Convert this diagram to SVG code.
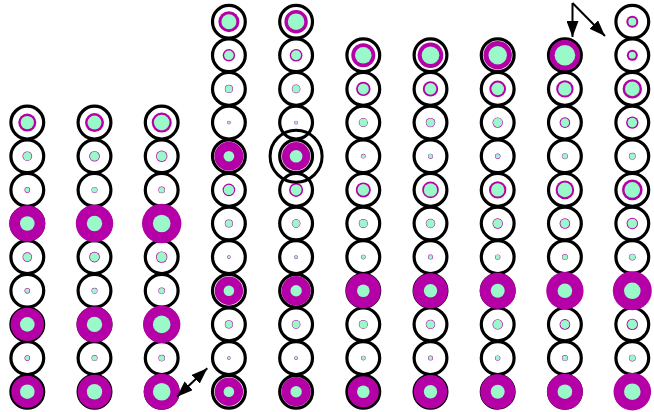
<svg xmlns="http://www.w3.org/2000/svg" width="654" height="412" viewBox="0 0 654 412">
<style>
.ring{fill:#fff;stroke:#000;stroke-width:3.2}
.m{fill:#b400a6}
.a{fill:#99f9c9}
.hl{fill:none;stroke:#000;stroke-width:3}
.conn{stroke:#000;stroke-width:2;fill:none}
</style>
<defs>
<marker id="ah" viewBox="0 0 16 12" refX="16" refY="6" markerWidth="16" markerHeight="12" markerUnits="userSpaceOnUse" orient="auto-start-reverse"><path d="M0,0 L16,6 L0,12 z" fill="#000"/></marker>
</defs>
<g id="nodes">
<!-- column 1 -->
<g id="c1r1" transform="translate(27.3,358.1)"><circle class="ring" r="16.4"/><circle class="m" r="2.8"/><circle class="a" r="2.3"/></g>
<g id="c1r3" transform="translate(27.3,290.8)"><circle class="ring" r="16.4"/><circle class="m" r="2.8"/><circle class="a" r="2.3"/></g>
<g id="c1r4" transform="translate(27.3,257.1)"><circle class="ring" r="16.4"/><circle class="m" r="4.8"/><circle class="a" r="4.2"/></g>
<g id="c1r6" transform="translate(27.3,189.9)"><circle class="ring" r="16.4"/><circle class="m" r="2.8"/><circle class="a" r="2.3"/></g>
<g id="c1r7" transform="translate(27.3,156.2)"><circle class="ring" r="16.4"/><circle class="m" r="4.8"/><circle class="a" r="4.2"/></g>
<g id="c1r8" transform="translate(27.3,122.6)"><circle class="ring" r="16.4"/><circle class="m" r="9"/><circle class="a" r="6.7"/></g>
<!-- column 2 -->
<g id="c2r1" transform="translate(94.5,358.1)"><circle class="ring" r="16.4"/><circle class="m" r="3"/><circle class="a" r="2.6"/></g>
<g id="c2r3" transform="translate(94.5,290.8)"><circle class="ring" r="16.4"/><circle class="m" r="3"/><circle class="a" r="2.6"/></g>
<g id="c2r4" transform="translate(94.5,257.1)"><circle class="ring" r="16.4"/><circle class="m" r="5.3"/><circle class="a" r="4.6"/></g>
<g id="c2r6" transform="translate(94.5,189.9)"><circle class="ring" r="16.4"/><circle class="m" r="3"/><circle class="a" r="2.6"/></g>
<g id="c2r7" transform="translate(94.5,156.2)"><circle class="ring" r="16.4"/><circle class="m" r="5.3"/><circle class="a" r="4.6"/></g>
<g id="c2r8" transform="translate(94.5,122.6)"><circle class="ring" r="16.4"/><circle class="m" r="9.5"/><circle class="a" r="7"/></g>
<!-- column 3 -->
<g id="c3r1" transform="translate(161.7,358.1)"><circle class="ring" r="16.4"/><circle class="m" r="3.3"/><circle class="a" r="2.9"/></g>
<g id="c3r3" transform="translate(161.7,290.8)"><circle class="ring" r="16.4"/><circle class="m" r="3.3"/><circle class="a" r="2.9"/></g>
<g id="c3r4" transform="translate(161.7,257.1)"><circle class="ring" r="16.4"/><circle class="m" r="5.7"/><circle class="a" r="5"/></g>
<g id="c3r6" transform="translate(161.7,189.9)"><circle class="ring" r="16.4"/><circle class="m" r="3.3"/><circle class="a" r="2.9"/></g>
<g id="c3r7" transform="translate(161.7,156.2)"><circle class="ring" r="16.4"/><circle class="m" r="5.7"/><circle class="a" r="5"/></g>
<g id="c3r8" transform="translate(161.7,122.6)"><circle class="ring" r="16.4"/><circle class="m" r="10"/><circle class="a" r="7.8"/></g>
<!-- column 4 -->
<g id="c4r1" transform="translate(228.9,358.1)"><circle class="ring" r="16.4"/><circle class="m" r="1.8"/><circle class="a" r="1.4"/></g>
<g id="c4r2" transform="translate(228.9,324.4)"><circle class="ring" r="16.4"/><circle class="m" r="4.1"/><circle class="a" r="3.6"/></g>
<g id="c4r4" transform="translate(228.9,257.1)"><circle class="ring" r="16.4"/><circle class="m" r="1.8"/><circle class="a" r="1.4"/></g>
<g id="c4r5" transform="translate(228.9,223.5)"><circle class="ring" r="16.4"/><circle class="m" r="4.1"/><circle class="a" r="3.6"/></g>
<g id="c4r6" transform="translate(228.9,189.9)"><circle class="ring" r="16.4"/><circle class="m" r="6.3"/><circle class="a" r="5.2"/></g>
<g id="c4r8" transform="translate(228.9,122.6)"><circle class="ring" r="16.4"/><circle class="m" r="1.8"/><circle class="a" r="1.4"/></g>
<g id="c4r9" transform="translate(228.9,88.9)"><circle class="ring" r="16.4"/><circle class="m" r="4.1"/><circle class="a" r="3.6"/></g>
<g id="c4r10" transform="translate(228.9,55.3)"><circle class="ring" r="16.4"/><circle class="m" r="6.2"/><circle class="a" r="4.8"/></g>
<g id="c4r11" transform="translate(228.9,21.7)"><circle class="ring" r="16.4"/><circle class="m" r="10.5"/><circle class="a" r="7.5"/></g>
<!-- column 5 -->
<g id="c5r1" transform="translate(296.1,358.1)"><circle class="ring" r="16.4"/><circle class="m" r="1.9"/><circle class="a" r="1.5"/></g>
<g id="c5r2" transform="translate(296.1,324.4)"><circle class="ring" r="16.4"/><circle class="m" r="4.3"/><circle class="a" r="3.8"/></g>
<g id="c5r4" transform="translate(296.1,257.1)"><circle class="ring" r="16.4"/><circle class="m" r="1.9"/><circle class="a" r="1.5"/></g>
<g id="c5r5" transform="translate(296.1,223.5)"><circle class="ring" r="16.4"/><circle class="m" r="4.3"/><circle class="a" r="3.8"/></g>
<g id="c5r6" transform="translate(296.1,189.9)"><circle class="ring" r="16.4"/><circle class="m" r="7"/><circle class="a" r="5.5"/></g>
<g id="c5r8" transform="translate(296.1,122.6)"><circle class="ring" r="16.4"/><circle class="m" r="1.9"/><circle class="a" r="1.5"/></g>
<g id="c5r9" transform="translate(296.1,88.9)"><circle class="ring" r="16.4"/><circle class="m" r="4.3"/><circle class="a" r="3.8"/></g>
<g id="c5r10" transform="translate(296.1,55.3)"><circle class="ring" r="16.4"/><circle class="m" r="6.3"/><circle class="a" r="5"/></g>
<g id="c5r11" transform="translate(296.1,21.7)"><circle class="ring" r="16.4"/><circle class="m" r="11.7"/><circle class="a" r="8.3"/></g>
<!-- column 6 -->
<g id="c6r1" transform="translate(363.3,358.1)"><circle class="ring" r="16.4"/><circle class="m" r="2.4"/><circle class="a" r="2"/></g>
<g id="c6r2" transform="translate(363.3,324.4)"><circle class="ring" r="16.4"/><circle class="m" r="4.5"/><circle class="a" r="4"/></g>
<g id="c6r4" transform="translate(363.3,257.1)"><circle class="ring" r="16.4"/><circle class="m" r="2.4"/><circle class="a" r="2"/></g>
<g id="c6r5" transform="translate(363.3,223.5)"><circle class="ring" r="16.4"/><circle class="m" r="4.5"/><circle class="a" r="4"/></g>
<g id="c6r6" transform="translate(363.3,189.9)"><circle class="ring" r="16.4"/><circle class="m" r="7.5"/><circle class="a" r="5.8"/></g>
<g id="c6r7" transform="translate(363.3,156.2)"><circle class="ring" r="16.4"/><circle class="m" r="2.4"/><circle class="a" r="2"/></g>
<g id="c6r8" transform="translate(363.3,122.6)"><circle class="ring" r="16.4"/><circle class="m" r="4.5"/><circle class="a" r="4"/></g>
<g id="c6r9" transform="translate(363.3,88.9)"><circle class="ring" r="16.4"/><circle class="m" r="7.2"/><circle class="a" r="5.5"/></g>
<g id="c6r10" transform="translate(363.3,55.3)"><circle class="ring" r="16.4"/><circle class="m" r="12"/><circle class="a" r="8.3"/></g>
<!-- column 7 -->
<g id="c7r1" transform="translate(430.5,358.1)"><circle class="ring" r="16.4"/><circle class="m" r="2.5"/><circle class="a" r="2.1"/></g>
<g id="c7r2" transform="translate(430.5,324.4)"><circle class="ring" r="16.4"/><circle class="m" r="4.7"/><circle class="a" r="4.2"/></g>
<g id="c7r4" transform="translate(430.5,257.1)"><circle class="ring" r="16.4"/><circle class="m" r="2.5"/><circle class="a" r="2.1"/></g>
<g id="c7r5" transform="translate(430.5,223.5)"><circle class="ring" r="16.4"/><circle class="m" r="4.7"/><circle class="a" r="4.2"/></g>
<g id="c7r6" transform="translate(430.5,189.9)"><circle class="ring" r="16.4"/><circle class="m" r="8.3"/><circle class="a" r="6.7"/></g>
<g id="c7r7" transform="translate(430.5,156.2)"><circle class="ring" r="16.4"/><circle class="m" r="2.5"/><circle class="a" r="2.1"/></g>
<g id="c7r8" transform="translate(430.5,122.6)"><circle class="ring" r="16.4"/><circle class="m" r="4.7"/><circle class="a" r="4.2"/></g>
<g id="c7r9" transform="translate(430.5,88.9)"><circle class="ring" r="16.4"/><circle class="m" r="7.7"/><circle class="a" r="5.8"/></g>
<g id="c7r10" transform="translate(430.5,55.3)"><circle class="ring" r="16.4"/><circle class="m" r="12.8"/><circle class="a" r="8.8"/></g>
<!-- column 8 -->
<g id="c8r1" transform="translate(497.7,358.1)"><circle class="ring" r="16.4"/><circle class="m" r="2.7"/><circle class="a" r="2.3"/></g>
<g id="c8r2" transform="translate(497.7,324.4)"><circle class="ring" r="16.4"/><circle class="m" r="5.2"/><circle class="a" r="4.6"/></g>
<g id="c8r4" transform="translate(497.7,257.1)"><circle class="ring" r="16.4"/><circle class="m" r="2.7"/><circle class="a" r="2.3"/></g>
<g id="c8r5" transform="translate(497.7,223.5)"><circle class="ring" r="16.4"/><circle class="m" r="5.2"/><circle class="a" r="4.6"/></g>
<g id="c8r6" transform="translate(497.7,189.9)"><circle class="ring" r="16.4"/><circle class="m" r="8.7"/><circle class="a" r="6.7"/></g>
<g id="c8r7" transform="translate(497.7,156.2)"><circle class="ring" r="16.4"/><circle class="m" r="2.7"/><circle class="a" r="2.3"/></g>
<g id="c8r8" transform="translate(497.7,122.6)"><circle class="ring" r="16.4"/><circle class="m" r="5.2"/><circle class="a" r="4.6"/></g>
<g id="c8r9" transform="translate(497.7,88.9)"><circle class="ring" r="16.4"/><circle class="m" r="8.3"/><circle class="a" r="6.3"/></g>
<g id="c8r10" transform="translate(497.7,55.3)"><circle class="ring" r="16.4"/><circle class="m" r="14.2"/><circle class="a" r="9.2"/></g>
<!-- column 9 -->
<g id="c9r1" transform="translate(564.9,358.1)"><circle class="ring" r="16.4"/><circle class="m" r="3"/><circle class="a" r="2.6"/></g>
<g id="c9r2" transform="translate(564.9,324.4)"><circle class="ring" r="16.4"/><circle class="m" r="5.3"/><circle class="a" r="4.5"/></g>
<g id="c9r4" transform="translate(564.9,257.1)"><circle class="ring" r="16.4"/><circle class="m" r="3"/><circle class="a" r="2.6"/></g>
<g id="c9r5" transform="translate(564.9,223.5)"><circle class="ring" r="16.4"/><circle class="m" r="5.3"/><circle class="a" r="4.5"/></g>
<g id="c9r6" transform="translate(564.9,189.9)"><circle class="ring" r="16.4"/><circle class="m" r="9.3"/><circle class="a" r="7.3"/></g>
<g id="c9r7" transform="translate(564.9,156.2)"><circle class="ring" r="16.4"/><circle class="m" r="3"/><circle class="a" r="2.6"/></g>
<g id="c9r8" transform="translate(564.9,122.6)"><circle class="ring" r="16.4"/><circle class="m" r="5.3"/><circle class="a" r="4.3"/></g>
<g id="c9r9" transform="translate(564.9,88.9)"><circle class="ring" r="16.4"/><circle class="m" r="8.7"/><circle class="a" r="6.7"/></g>
<g id="c9r10" transform="translate(564.9,55.3)"><circle class="ring" r="16.4"/><circle class="m" r="15.3"/><circle class="a" r="10.3"/></g>
<!-- column 10 -->
<g id="c10r1" transform="translate(632.3,358.1)"><circle class="ring" r="16.4"/><circle class="m" r="3.4"/><circle class="a" r="3"/></g>
<g id="c10r2" transform="translate(632.3,324.4)"><circle class="ring" r="16.4"/><circle class="m" r="5.7"/><circle class="a" r="4.8"/></g>
<g id="c10r4" transform="translate(632.3,257.1)"><circle class="ring" r="16.4"/><circle class="m" r="3.4"/><circle class="a" r="3"/></g>
<g id="c10r5" transform="translate(632.3,223.5)"><circle class="ring" r="16.4"/><circle class="m" r="5.7"/><circle class="a" r="4.8"/></g>
<g id="c10r6" transform="translate(632.3,189.9)"><circle class="ring" r="16.4"/><circle class="m" r="10.3"/><circle class="a" r="7.8"/></g>
<g id="c10r7" transform="translate(632.3,156.2)"><circle class="ring" r="16.4"/><circle class="m" r="3.4"/><circle class="a" r="3"/></g>
<g id="c10r8" transform="translate(632.3,122.6)"><circle class="ring" r="16.4"/><circle class="m" r="6.2"/><circle class="a" r="4.8"/></g>
<g id="c10r9" transform="translate(632.3,88.9)"><circle class="ring" r="16.4"/><circle class="m" r="9.7"/><circle class="a" r="7.3"/></g>
<g id="c10r10" transform="translate(632.3,55.3)"><circle class="ring" r="16.4"/><circle class="m" r="5.5"/><circle class="a" r="3.5"/></g>
<g id="c10r11" transform="translate(632.3,21.7)"><circle class="ring" r="16.4"/><circle class="m" r="6"/><circle class="a" r="4"/></g>
<!-- large magenta nodes (drawn last) -->
<g id="c1r0" transform="translate(27.3,391.7)"><circle class="ring" r="16.4"/><circle class="m" r="16"/><circle class="a" r="7.3"/></g>
<g id="c1r2" transform="translate(27.3,324.4)"><circle class="ring" r="16.4"/><circle class="m" r="16.7"/><circle class="a" r="7.3"/></g>
<g id="c1r5" transform="translate(27.3,223.5)"><circle class="ring" r="16.4"/><circle class="m" r="18"/><circle class="a" r="7.3"/></g>
<g id="c2r0" transform="translate(94.5,391.7)"><circle class="ring" r="16.4"/><circle class="m" r="17"/><circle class="a" r="7.7"/></g>
<g id="c2r2" transform="translate(94.5,324.4)"><circle class="ring" r="16.4"/><circle class="m" r="18"/><circle class="a" r="7.7"/></g>
<g id="c2r5" transform="translate(94.5,223.5)"><circle class="ring" r="16.4"/><circle class="m" r="18.7"/><circle class="a" r="7.7"/></g>
<g id="c3r0" transform="translate(161.7,391.7)"><circle class="ring" r="16.4"/><circle class="m" r="18"/><circle class="a" r="8.8"/></g>
<g id="c3r2" transform="translate(161.7,324.4)"><circle class="ring" r="16.4"/><circle class="m" r="18.7"/><circle class="a" r="8.8"/></g>
<g id="c3r5" transform="translate(161.7,223.5)"><circle class="ring" r="16.4"/><circle class="m" r="19.7"/><circle class="a" r="8.8"/></g>
<g id="c4r0" transform="translate(228.9,391.7)"><circle class="ring" r="16.4"/><circle class="m" r="14.2"/><circle class="a" r="5.3"/></g>
<g id="c4r3" transform="translate(228.9,290.8)"><circle class="ring" r="16.4"/><circle class="m" r="14.2"/><circle class="a" r="5.3"/></g>
<g id="c4r7" transform="translate(228.9,156.2)"><circle class="ring" r="16.4"/><circle class="m" r="14.5"/><circle class="a" r="5.3"/></g>
<g id="c5r0" transform="translate(296.1,391.7)"><circle class="ring" r="16.4"/><circle class="m" r="14.7"/><circle class="a" r="5.7"/></g>
<g id="c5r3" transform="translate(296.1,290.8)"><circle class="ring" r="16.4"/><circle class="m" r="14.7"/><circle class="a" r="5.7"/></g>
<g id="c5r7" transform="translate(296.1,156.2)"><circle class="ring" r="16.4"/><circle class="m" r="14.2"/><circle class="a" r="6.3"/></g>
<g id="c6r0" transform="translate(363.3,391.7)"><circle class="ring" r="16.4"/><circle class="m" r="15.5"/><circle class="a" r="6.3"/></g>
<g id="c6r3" transform="translate(363.3,290.8)"><circle class="ring" r="16.4"/><circle class="m" r="17.5"/><circle class="a" r="6.3"/></g>
<g id="c7r0" transform="translate(430.5,391.7)"><circle class="ring" r="16.4"/><circle class="m" r="16.8"/><circle class="a" r="6.7"/></g>
<g id="c7r3" transform="translate(430.5,290.8)"><circle class="ring" r="16.4"/><circle class="m" r="17.5"/><circle class="a" r="6.7"/></g>
<g id="c8r0" transform="translate(497.7,391.7)"><circle class="ring" r="16.4"/><circle class="m" r="17.5"/><circle class="a" r="7"/></g>
<g id="c8r3" transform="translate(497.7,290.8)"><circle class="ring" r="16.4"/><circle class="m" r="18"/><circle class="a" r="7"/></g>
<g id="c9r0" transform="translate(564.9,391.7)"><circle class="ring" r="16.4"/><circle class="m" r="18"/><circle class="a" r="7.3"/></g>
<g id="c9r3" transform="translate(564.9,290.8)"><circle class="ring" r="16.4"/><circle class="m" r="18.7"/><circle class="a" r="7.3"/></g>
<g id="c10r0" transform="translate(632.3,391.7)"><circle class="ring" r="16.4"/><circle class="m" r="18.8"/><circle class="a" r="8.3"/></g>
<g id="c10r3" transform="translate(632.3,290.8)"><circle class="ring" r="16.4"/><circle class="m" r="19.5"/><circle class="a" r="8.3"/></g>
</g>
<g id="highlight"><circle class="hl" cx="296.1" cy="156.2" r="26"/></g>
<g id="connectors">
<line class="conn" x1="177" y1="396.7" x2="207.3" y2="368.3" marker-start="url(#ah)" marker-end="url(#ah)"/>
<line class="conn" x1="572.5" y1="3" x2="572.5" y2="37" marker-end="url(#ah)"/>
<line class="conn" x1="572.5" y1="3" x2="605" y2="36" marker-end="url(#ah)"/>
</g>
</svg>
